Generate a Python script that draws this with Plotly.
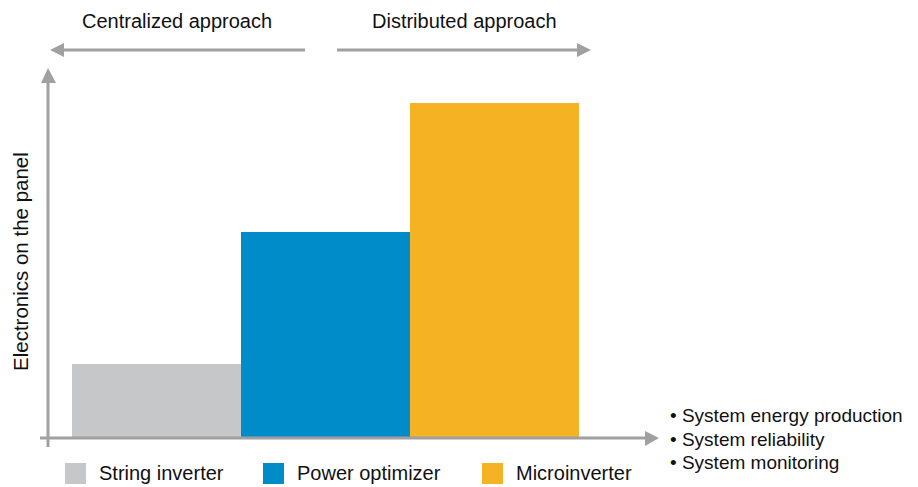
import plotly.graph_objects as go

categories = ["String inverter", "Power optimizer", "Microinverter"]
values = [2.0, 5.6, 9.1]
colors = ["#C6C7C9", "#008BC9", "#F5B323"]
approach_labels = ["Centralized approach", "Distributed approach"]
y_title = "Electronics on the panel"
benefits = ["• System energy production", "• System reliability", "• System monitoring"]

# The page body has an 8px default margin, so the figure is drawn 8px smaller
# and all reference pixel positions are shifted by that offset.
OFF = 8
W, H = 918 - OFF, 487 - OFF
L, R, T, B = 48, 660, 70, 438  # plot area in reference pixels
AX = "#A0A0A0"
FONT = "Liberation Sans, Arial, sans-serif"


def px(x):
    return (x - L) / (R - L)


def py(y):
    return (B - y) / (B - T)


fig = go.Figure()
fig.add_trace(go.Bar(
    x=[0, 1, 2], y=values, width=1.0,
    marker=dict(color=colors, line=dict(width=0)),
    showlegend=False, hoverinfo="skip",
))

bar_w_px = 169.0
x0 = -(156.5 - L) / bar_w_px
x1 = x0 + (R - L) / bar_w_px

shapes = []


def line(xa, ya, xb, yb, w=3):
    shapes.append(dict(type="line", xref="paper", yref="paper",
                       x0=px(xa), y0=py(ya), x1=px(xb), y1=py(yb),
                       line=dict(color=AX, width=w), layer="above"))


def tri(pts):
    path = "M " + " L ".join(f"{px(a)},{py(b)}" for a, b in pts) + " Z"
    shapes.append(dict(type="path", xref="paper", yref="paper", path=path,
                       fillcolor=AX, line=dict(width=0), layer="above"))


# axes
line(48, 447, 48, 80)
tri([(48, 68), (41, 83), (56, 83)])
line(40, 438, 646, 438)
tri([(659, 438), (645, 431), (645, 446)])
# approach arrows
line(305, 50, 62, 50)
tri([(50, 50), (64, 43), (64, 57)])
line(337, 50, 579, 50)
tri([(591, 50), (577, 43), (577, 57)])

annotations = []


def text(t, x, y, size, xanchor="center", angle=0):
    annotations.append(dict(text=t, xref="paper", yref="paper", x=px(x), y=py(y),
                            xanchor=xanchor, yanchor="middle", showarrow=False,
                            textangle=angle,
                            font=dict(family=FONT, size=size, color="#111111")))


text(approach_labels[0], 177, 21, 20)
text(approach_labels[1], 464, 21, 20)
text(y_title, 20, 262, 20.5, angle=-90)
for i, b in enumerate(benefits):
    text(b, 668, 415 + 24 * i, 19, xanchor="left")

# legend squares + labels
leg_sq = [65, 263, 482]
for i, c in enumerate(categories):
    xs = leg_sq[i]
    shapes.append(dict(type="rect", xref="paper", yref="paper",
                       x0=px(xs), x1=px(xs + 21), y0=py(463), y1=py(484),
                       fillcolor=colors[i], line=dict(width=0)))
    text(c, xs + 32, 473, 20, xanchor="left")

fig.update_layout(
    width=W, height=H, autosize=False,
    margin=dict(l=L - OFF, r=918 - R, t=T - OFF, b=487 - B, pad=0),
    paper_bgcolor="white", plot_bgcolor="white",
    xaxis=dict(range=[x0, x1], visible=False, fixedrange=True),
    yaxis=dict(range=[0, 10], visible=False, fixedrange=True),
    bargap=0,
    shapes=shapes, annotations=annotations,
)

fig.write_html("out.html")
